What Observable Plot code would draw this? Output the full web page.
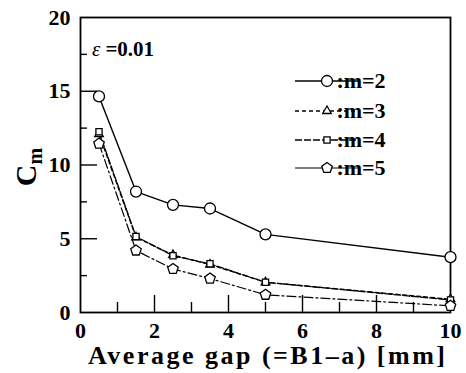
<!DOCTYPE html>
<html><head><meta charset="utf-8">
<script src="https://cdn.jsdelivr.net/npm/d3@7"></script>
<script src="https://cdn.jsdelivr.net/npm/@observablehq/plot@0.6"></script>
<style>
html, body, svg, text, tspan { font-family: "Liberation Serif", serif !important; }
body{margin:0;background:#fff}
#chart{width:466px;height:373px}
</style>
</head><body>
<div id="chart"></div>
<script>
// ---- data ----
const gaps = [0.5, 1.5, 2.5, 3.5, 5, 10];
const m2 = [14.65, 8.2, 7.3, 7.05, 5.3, 3.75];
const m3 = [12.1, 5.1, 3.9, 3.25, 2.05, 0.9];
const m4 = [12.25, 5.15, 3.85, 3.3, 2.05, 0.85];
const m5 = [11.45, 4.2, 2.95, 2.3, 1.2, 0.45];
const seriesLabels = [":m=2", ":m=3", ":m=4", ":m=5"];
const xTickLabels = [0, 2, 4, 6, 8, 10];
const yTickLabels = [0, 5, 10, 15, 20];
const xMajorTicks = [2, 4, 6, 8];
const xMinorTicks = [1, 3, 5, 7, 9];
const yMajorTicks = [5, 10, 15];
const yMinorTicks = [2.5, 7.5, 12.5, 17.5];
const annotationSymbol = "\u03b5";
const annotationValue = "=0.01";
const xTitle = "Average gap (=B1\u2013a) [mm]";

// pentagon symbol
const pentagon = {draw(ctx, size) {
  const r = Math.sqrt(size / (2.5 * Math.sin(2 * Math.PI / 5)));
  for (let i = 0; i < 5; i++) {
    const a = -Math.PI / 2 + i * 2 * Math.PI / 5;
    const x = r * Math.cos(a), y = r * Math.sin(a);
    i ? ctx.lineTo(x, y) : ctx.moveTo(x, y);
  }
  ctx.closePath();
}};

const styles = [
  {values: m2, dash: null, symbol: "circle", r: 5.5, lw: 1.4},
  {values: m3, dash: "4,3", symbol: "triangle", r: 3.2, lw: 1.3},
  {values: m4, dash: "7,2", symbol: "square", r: 3.5, lw: 1.3},
  {values: m5, dash: "9,3,2,3", symbol: pentagon, r: 4.8, lw: 1.2}
];
const rows = styles.map((s, i) => gaps.map((g, j) => ({series: seriesLabels[i], gap: g, cm: s.values[j]})));

const W = 466, H = 373, ML = 80, MR = 16, MT = 17, MB = 61;
const plotW = W - ML - MR, plotH = H - MT - MB;
const font = "Liberation Serif";

const marks = [];
marks.push(Plot.tickY(yMajorTicks, {y: d => d, insetRight: plotW - 17, strokeWidth: 1.4}));
marks.push(Plot.tickY(yMinorTicks, {y: d => d, insetRight: plotW - 7, strokeWidth: 1.4}));
marks.push(Plot.tickX(xMajorTicks, {x: d => d, insetTop: plotH - 17, strokeWidth: 1.4}));
marks.push(Plot.tickX(xMinorTicks, {x: d => d, insetTop: plotH - 10, strokeWidth: 1.4}));
marks.push(Plot.frame({strokeWidth: 1.8}));
marks.push(Plot.axisX({ticks: xTickLabels, tickSize: 0, tickPadding: 10, fontSize: 22, fontWeight: "bold", fontFamily: font, label: null, tickFormat: d => String(d)}));
marks.push(Plot.axisY({ticks: yTickLabels, tickSize: 0, tickPadding: 10, fontSize: 22, fontWeight: "bold", fontFamily: font, label: null, tickFormat: d => String(d)}));
styles.forEach((s, i) => {
  marks.push(Plot.line(rows[i], {x: "gap", y: "cm", stroke: "black", strokeWidth: s.lw, strokeDasharray: s.dash}));
});
styles.forEach((s, i) => {
  marks.push(Plot.dot(rows[i], {x: "gap", y: "cm", symbol: s.symbol, r: s.r, fill: "white", stroke: "black", strokeWidth: 1.3}));
});

const plot = Plot.plot({
  width: W, height: H,
  marginLeft: ML, marginRight: MR, marginTop: MT, marginBottom: MB,
  x: {domain: [0, 10]},
  y: {domain: [0, 20]},
  style: {fontFamily: font, color: "black", background: "white"},
  marks
});
document.getElementById("chart").appendChild(plot);

const svg = d3.select(plot);
// y title C_m
const yt = svg.append("text")
  .attr("transform", "translate(36,167) rotate(-90)")
  .attr("text-anchor", "middle")
  .attr("font-weight", "bold").attr("font-size", 30).attr("fill", "black");
yt.append("tspan").text("C");
yt.append("tspan").attr("font-size", 20).attr("dy", 6).text("m");

// x title
svg.append("text")
  .attr("x", 266.5).attr("y", 364)
  .attr("text-anchor", "middle")
  .attr("font-weight", "bold").attr("font-size", 26).attr("fill", "black")
  .attr("textLength", 357).attr("lengthAdjust", "spacing")
  .text(xTitle);

// annotation
const an = svg.append("text").attr("x", 123).attr("y", 56)
  .attr("font-size", 21).attr("fill", "black");
an.append("tspan").attr("font-style", "italic").text(annotationSymbol);
an.append("tspan").attr("font-weight", "bold").text(" " + annotationValue);

// legend (built from the series arrays)
const legendY = [81, 111, 140, 168];
const lg = svg.append("g");
styles.forEach((s, i) => {
  const y = legendY[i];
  lg.append("line").attr("x1", 295).attr("x2", 358).attr("y1", y).attr("y2", y)
    .attr("stroke", "black").attr("stroke-width", s.lw)
    .attr("stroke-dasharray", i === 3 ? null : s.dash);
  const type = typeof s.symbol === "string" ? (s.symbol === "circle" ? d3.symbolCircle : s.symbol === "triangle" ? d3.symbolTriangle : d3.symbolSquare) : s.symbol;
  lg.append("path").attr("transform", `translate(327,${y})`)
    .attr("d", d3.symbol(type, Math.PI * s.r * s.r)())
    .attr("fill", "white").attr("stroke", "black").attr("stroke-width", 1.3);
  lg.append("text").attr("x", 361).attr("y", y + 7)
    .attr("font-weight", "bold").attr("font-size", 22).attr("fill", "black")
    .text(seriesLabels[i]);
});

// force the serif face on every text element
plot.style.setProperty("font-family", '"Liberation Serif", serif', "important");
plot.querySelectorAll("text, tspan").forEach(el => {
  el.setAttribute("font-family", "Liberation Serif");
  el.style.setProperty("font-family", '"Liberation Serif", serif', "important");
});
</script>
</body></html>
